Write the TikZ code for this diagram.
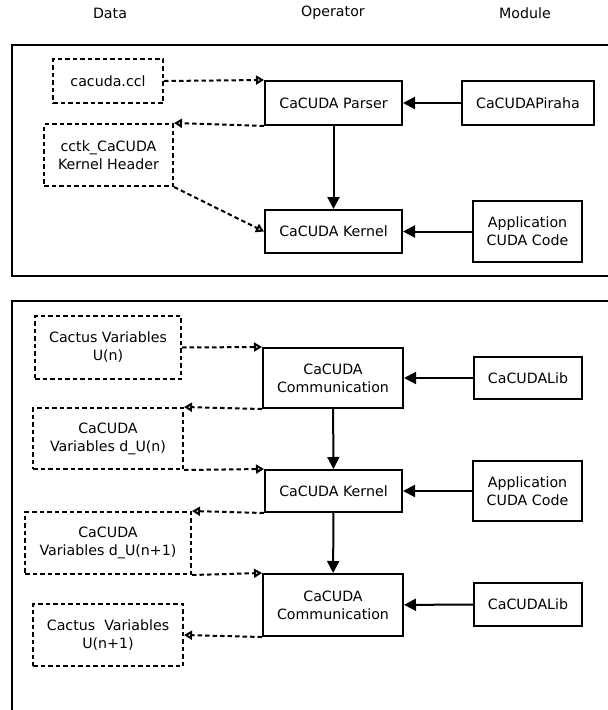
\documentclass[tikz,border=0pt]{standalone}
\usepackage{fontspec}
\setmainfont{DejaVu Sans}
\usetikzlibrary{arrows.meta}

\begin{document}
\begin{tikzpicture}
[x=1pt,y=-1pt,
  font=\fontsize{14.2}{18}\selectfont,
  opDecorate/.style={shape=rectangle,draw,line width=2pt,align=center,inner sep=0pt},%
  dataDecorate/.style={shape=rectangle,draw,line width=2pt,dash pattern=on 4.5pt off 3pt,align=center,inner sep=0pt},%
  headDecorate/.style={inner sep=0pt},%
  panelDecorate/.style={draw,line width=2pt},%
  lineDecorate/.style={-{Triangle[length=12pt,width=12pt]},line width=2pt},%
  dataLineDecorate/.style={-{Triangle[open,length=8pt,width=9pt]},line width=2pt,dash pattern=on 4.5pt off 3pt}]
\useasboundingbox (0,0) rectangle (608,710);
\clip (0,0) rectangle (608,710);
%% column titles
\node (h1) at (110,13) [headDecorate] {Data};
\node (h2) at (333,13) [headDecorate] {Operator};
\node (h3) at (525,13) [headDecorate] {Module};
%% panels
\path[panelDecorate] (12,45) rectangle (625,276);
\path[panelDecorate] (12,301) rectangle (625,725);
%% nodes of the upper panel
\node (1) at (108,81) [dataDecorate,minimum width=110pt,minimum height=44pt] {cacuda.ccl};
\node (2) at (333.5,103) [opDecorate,minimum width=137pt,minimum height=44pt] {CaCUDA Parser};
\node (3) at (528,103) [opDecorate,minimum width=132pt,minimum height=44pt] {CaCUDAPiraha};
\node (4) at (108.5,155) [dataDecorate,minimum width=129pt,minimum height=62pt] {cctk\_CaCUDA\\Kernel Header};
\node (5) at (333.5,231.5) [opDecorate,minimum width=137pt,minimum height=43pt] {CaCUDA Kernel};
\node (6) at (527.5,231.5) [opDecorate,minimum width=109pt,minimum height=61pt] {Application\\CUDA Code};
%% nodes of the lower panel
\node (7) at (108,347.5) [dataDecorate,minimum width=146pt,minimum height=63pt] {Cactus Variables\\U(n)};
\node (8) at (333,378) [opDecorate,minimum width=140pt,minimum height=60pt] {CaCUDA\\Communication};
\node (9) at (528,378) [opDecorate,minimum width=108pt,minimum height=42pt] {CaCUDALib};
\node (10) at (108,438.5) [dataDecorate,minimum width=150pt,minimum height=61pt] {CaCUDA\\Variables d\_U(n)};
\node (11) at (333.5,491) [opDecorate,minimum width=137pt,minimum height=42pt] {CaCUDA Kernel};
\node (12) at (527.5,491) [opDecorate,minimum width=109pt,minimum height=60pt] {Application\\CUDA Code};
\node (13) at (108,543) [dataDecorate,minimum width=166pt,minimum height=62pt] {CaCUDA\\Variables d\_U(n+1)};
\node (14) at (333,605) [opDecorate,minimum width=140pt,minimum height=62pt] {CaCUDA\\Communication};
\node (15) at (528,604.5) [opDecorate,minimum width=108pt,minimum height=43pt] {CaCUDALib};
\node (16) at (108,635) [dataDecorate,minimum width=150pt,minimum height=62pt] {Cactus\ \ Variables\\U(n+1)};
%% edges or lines
\path
(1.east) edge[dataLineDecorate] (2.north west)
(2.south west) edge[dataLineDecorate] (4.north east)
(4.south east) edge[dataLineDecorate] (5.west)
(3) edge[lineDecorate] (2)
(2) edge[lineDecorate] (5)
(6) edge[lineDecorate] (5);
\path
(7.east) edge[dataLineDecorate] (8.north west)
(8.south west) edge[dataLineDecorate] (10.north east)
(10.south east) edge[dataLineDecorate] (11.north west)
(11.south west) edge[dataLineDecorate] (13.north east)
(13.south east) edge[dataLineDecorate] (14.north west)
(14.south west) edge[dataLineDecorate] (16.east)
(9) edge[lineDecorate] (8)
(8) edge[lineDecorate] (11)
(12) edge[lineDecorate] (11)
(11) edge[lineDecorate] (14)
(15) edge[lineDecorate] (14);
\end{tikzpicture}
\end{document}
